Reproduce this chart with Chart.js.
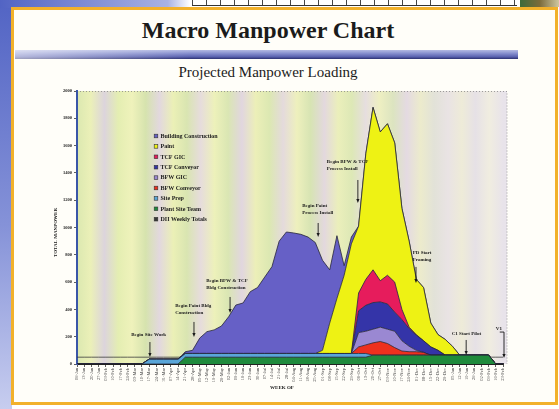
<!DOCTYPE html>
<html>
<head>
<meta charset="utf-8">
<script src="https://cdn.jsdelivr.net/npm/chart.js@4.4.1/dist/chart.umd.min.js"></script>
<style>
  html, body { margin: 0; padding: 0; }
  body { width: 559px; height: 409px; position: relative; overflow: hidden; background: #fff; font-family: 'Liberation Serif', serif; }
  .abs { position: absolute; }
  #leftStrip { left: 0; top: 0; width: 12px; height: 409px; background: linear-gradient(to bottom, #5264c4, #8592d8 55%, #c7cdef); }
  #topStrip { left: 0; top: 0; width: 559px; height: 8px; background: linear-gradient(to right, #5264c4, #a9b2e3 30%, #ffffff 34%); }
  #ruler { left: 192px; top: 0; width: 325px; height: 5px; border-bottom: 1px solid #333; background: repeating-linear-gradient(to right, #444 0 1px, transparent 1px 14px); }
  #corner { left: 520px; top: 0; width: 39px; height: 7px; background: linear-gradient(to right, #3c6a3a, #7a6a3a, #cfc7a0); }
  #frame { left: 11px; top: 7px; width: 541px; height: 392px; border: 3px solid #f2b12b; background: #fffef9; }
  #title { left: 0; top: 18px; width: 536px; text-align: center; font-weight: bold; font-size: 24px; line-height: 24px; color: #1b1b1b; }
  #band { left: 15px; top: 50px; width: 503px; height: 9px;
    background: linear-gradient(to right, rgba(255,255,255,0.55), rgba(255,255,255,0) 35%),
                linear-gradient(to bottom, #b4bae2 0, #8a92d0 35%, #5a62b0 75%, #2c3070 100%); }
  #subtitle { left: 0; top: 65px; width: 536px; text-align: center; font-size: 15px; line-height: 15px; color: #1b1b1b; }
  canvas { position: absolute; left: 0; top: 0; }
</style>
</head>
<body>
<div class="abs" id="leftStrip"></div>
<div class="abs" id="topStrip"></div>
<div class="abs" id="ruler"></div>
<div class="abs" id="corner"></div>
<div class="abs" id="frame"></div>
<div class="abs" id="title">Macro Manpower Chart</div>
<div class="abs" id="band"></div>
<div class="abs" id="subtitle">Projected Manpower Loading</div>
<canvas id="chart" width="559" height="409"></canvas>
<script>
const WEEKS = [
  '06-Jan','13-Jan','20-Jan','27-Jan','03-Feb','10-Feb','17-Feb','24-Feb','03-Mar','10-Mar',
  '17-Mar','24-Mar','31-Mar','07-Apr','14-Apr','21-Apr','28-Apr','05-May','12-May','19-May',
  '26-May','02-Jun','09-Jun','16-Jun','23-Jun','30-Jun','07-Jul','14-Jul','21-Jul','28-Jul',
  '04-Aug','11-Aug','18-Aug','25-Aug','01-Sep','08-Sep','15-Sep','22-Sep','29-Sep','06-Oct',
  '13-Oct','20-Oct','27-Oct','03-Nov','10-Nov','17-Nov','24-Nov','01-Dec','08-Dec','15-Dec',
  '22-Dec','29-Dec','05-Jan','12-Jan','19-Jan','26-Jan','02-Feb','09-Feb','16-Feb','23-Feb'
];

// stacked from the bottom up
const PLANT_SITE_TEAM = [
  0,0,0,0,0,0,0,0,0,0,
  0,0,0,0,0,50,50,50,50,50,
  50,50,50,50,50,50,50,50,50,50,
  50,50,50,50,50,50,50,50,50,50,
  50,65,65,65,65,65,65,65,65,65,
  65,65,65,65,65,65,65,65,0,0
];
const SITE_PREP = [
  0,0,0,0,0,0,0,0,0,0,
  35,35,35,35,35,27,27,27,27,27,
  27,27,27,27,27,27,27,27,27,27,
  27,27,27,27,27,27,27,27,27,27,
  27,0,0,0,0,0,0,0,0,0,
  0,0,0,0,0,0,0,0,0,0
];
const BFW_CONVEYOR = [
  0,0,0,0,0,0,0,0,0,0,
  0,0,0,0,0,0,0,0,0,0,
  0,0,0,0,0,0,0,0,0,0,
  0,0,0,0,0,0,0,0,0,48,
  63,90,100,85,55,30,25,25,20,0,
  0,0,0,0,0,0,0,0,0,0
];
const BFW_GIC = [
  0,0,0,0,0,0,0,0,0,0,
  0,0,0,0,0,0,0,0,0,0,
  0,0,0,0,0,0,0,0,0,0,
  0,0,0,0,0,0,0,0,0,105,
  100,100,105,105,120,75,40,10,0,0,
  0,0,0,0,0,0,0,0,0,0
];
const TCF_CONVEYOR = [
  0,0,0,0,0,0,0,0,0,0,
  0,0,0,0,0,0,0,0,0,0,
  0,0,0,0,0,0,0,0,0,0,
  0,0,0,0,0,0,0,0,0,160,
  190,195,185,185,140,155,130,110,85,60,
  35,0,0,0,0,0,0,0,0,0
];
const TCF_GIC = [
  0,0,0,0,0,0,0,0,0,0,
  0,0,0,0,0,0,0,0,0,0,
  0,0,0,0,0,0,0,0,0,0,
  0,0,0,0,0,0,0,0,0,130,
  190,240,155,210,220,75,10,5,0,0,
  0,0,0,0,0,0,0,0,0,0
];
const PAINT = [
  0,0,0,0,0,0,0,0,0,0,
  0,0,0,0,0,0,0,0,0,0,
  0,0,0,0,0,0,0,0,0,0,
  0,0,0,0,23,223,403,573,803,490,
  920,1190,1090,1110,1020,740,630,405,390,175,
  115,115,65,0,0,0,0,0,0,0
];
const BUILDING_CONSTRUCTION = [
  0,0,0,0,0,0,0,0,0,0,
  0,0,0,0,0,13,23,113,160,173,
  201,269,355,370,453,483,560,636,823,890,
  883,873,853,813,660,390,460,70,50,0,
  0,0,0,0,0,0,0,0,0,0,
  0,0,0,0,0,0,0,0,0,0
];
const DII_WEEKLY_TOTALS = [
  50,50,50,50,50,50,50,50,50,50,
  50,50,50,50,50,50,50,50,50,50,
  50,50,50,50,50,50,50,50,50,50,
  50,50,50,50,50,50,50,50,50,50,
  50,50,50,50,50,50,50,50,50,50,
  50,50,50,50,50,50,50,50,50,50
];

const STACK = [
  { label: 'Plant Site Team', data: PLANT_SITE_TEAM, color: '#1f8a3c' },
  { label: 'Site Prep', data: SITE_PREP, color: '#5aa6d8' },
  { label: 'BFW Conveyor', data: BFW_CONVEYOR, color: '#ee301e' },
  { label: 'BFW GIC', data: BFW_GIC, color: '#9a88d2' },
  { label: 'TCF Conveyor', data: TCF_CONVEYOR, color: '#3434a8' },
  { label: 'TCF GIC', data: TCF_GIC, color: '#e61c5c' },
  { label: 'Paint', data: PAINT, color: '#eef214' },
  { label: 'Building Construction', data: BUILDING_CONSTRUCTION, color: '#6660c6' }
];

// events marked on the chart: text anchor and arrow, in week / manpower units
const NOTES = [
  { lines: ['Begin Site Work'], tx: 7.5, ty: 212, ax: 10.1, from: 161, to: 51 },
  { lines: ['Begin Paint Bldg', 'Construction'], tx: 13.6, ty: 425, ax: 16.2, from: 308, to: 198 },
  { lines: ['Begin BFW & TCF', 'Bldg Construction'], tx: 17.9, ty: 608, ax: 21.2, from: 491, to: 374 },
  { lines: ['Begin Paint', 'Process Install'], tx: 31.2, ty: 1157, ax: 33.4, from: 1033, to: 930 },
  { lines: ['Begin BFW & TCF', 'Process Install'], tx: 34.6, ty: 1480, ax: 38.9, from: 1348, to: 1180 },
  { lines: ['PD Start', 'Framing'], tx: 46.5, ty: 813, ax: 46.95, from: 711, to: 593 },
  { lines: ['C1 Start Pilot'], tx: 51.9, ty: 220, ax: 53.9, from: 176, to: 66 }
];

const STRIPES = ['#dbe8b0','#ebf0b8','#dcd4dc','#e4eeb2','#eff2bb','#d6e3ae','#e2d8de','#ebf0b6',
  '#d9e5b1','#e6dcdc','#edf1ba','#dae6b3','#e1d6df','#ecefb8','#dce8b2','#e4dadc','#eef0bd',
  '#d7e4b3','#e3d8de','#ebefbb','#dde8b6','#e6dedf','#eeefc2','#dce4c0','#e4dae2','#ecebcc',
  '#e2e2d8','#e9e3e4','#eeebd8','#e6e1e6','#f0ede0','#e8e3ea'];

const SERIF = '"Liberation Serif", "Times New Roman", serif';

const plotBg = {
  id: 'plotBg',
  beforeDraw(chart) {
    const { ctx, chartArea: a } = chart;
    const g = ctx.createLinearGradient(a.left, 0, a.right, 0);
    STRIPES.forEach((c, k) => g.addColorStop(k / (STRIPES.length - 1), c));
    ctx.save();
    ctx.fillStyle = g;
    ctx.fillRect(a.left, a.top, a.right - a.left + 4, a.bottom - a.top);
    ctx.setLineDash([1, 2]);
    ctx.strokeStyle = '#888';
    ctx.lineWidth = 0.8;
    ctx.beginPath();
    ctx.moveTo(a.left, a.top + 0.5);
    ctx.lineTo(a.right + 4, a.top + 0.5);
    ctx.lineTo(a.right + 4, a.bottom);
    ctx.stroke();
    ctx.restore();
  }
};

function arrowHead(ctx, x, y) {
  ctx.beginPath();
  ctx.moveTo(x, y);
  ctx.lineTo(x - 1.6, y - 4);
  ctx.lineTo(x + 1.6, y - 4);
  ctx.closePath();
  ctx.fill();
}

const notesPlugin = {
  id: 'notes',
  afterDatasetsDraw(chart) {
    const { ctx, chartArea: a } = chart;
    const xs = chart.scales.x, ys = chart.scales.y;
    ctx.save();
    ctx.fillStyle = '#1a1a1a';
    ctx.strokeStyle = '#1a1a1a';
    ctx.lineWidth = 0.9;
    ctx.font = 'bold 5px ' + SERIF;
    ctx.textBaseline = 'middle';
    ctx.textAlign = 'left';
    NOTES.forEach(n => {
      const tx = xs.getPixelForValue(n.tx), ty = ys.getPixelForValue(n.ty);
      n.lines.forEach((t, k) => ctx.fillText(t, tx, ty + k * 7));
      const ax = xs.getPixelForValue(n.ax);
      const y1 = ys.getPixelForValue(n.from), y2 = ys.getPixelForValue(n.to);
      ctx.beginPath();
      ctx.moveTo(ax, y1);
      ctx.lineTo(ax, y2 - 3);
      ctx.stroke();
      arrowHead(ctx, ax, y2);
    });

    // V1 marker at the last week
    const vx = xs.getPixelForValue(58.0), vy = ys.getPixelForValue(256);
    ctx.fillText('V1', vx, vy);
    const ex = xs.getPixelForValue(59) + 1;
    ctx.beginPath();
    ctx.moveTo(vx + 4, vy + 3);
    ctx.lineTo(ex, vy + 3);
    ctx.lineTo(ex, ys.getPixelForValue(44) - 3);
    ctx.stroke();
    arrowHead(ctx, ex, ys.getPixelForValue(44));

    // legend
    const names = STACK.slice().reverse().map(s => [s.label, s.color]).concat([['DII Weekly Totals', '#3a3a3a']]);
    ctx.font = 'bold 6px ' + SERIF;
    names.forEach(([name, color], k) => {
      const lx = a.left + 79, ly = a.top + 45 + k * 10.4;
      ctx.fillStyle = color;
      ctx.fillRect(lx - 1.8, ly - 1.8, 3.6, 3.6);
      ctx.lineWidth = 0.6;
      ctx.strokeStyle = '#333';
      ctx.strokeRect(lx - 1.8, ly - 1.8, 3.6, 3.6);
      ctx.fillStyle = '#1a1a1a';
      ctx.fillText(name, lx + 4.5, ly + 0.3);
    });

    // axis titles
    ctx.font = 'bold 5px ' + SERIF;
    ctx.textAlign = 'center';
    ctx.fillText('WEEK OF', (a.left + a.right) / 2 - 8, a.bottom + 24);
    ctx.translate(a.left - 21, (a.top + a.bottom) / 2 + 5);
    ctx.rotate(-Math.PI / 2);
    ctx.fillText('TOTAL MANPOWER', 0, 0);
    ctx.restore();
  }
};

const datasets = STACK.map(s => ({
  label: s.label,
  data: s.data,
  backgroundColor: s.color,
  borderColor: '#26263a',
  borderWidth: 0.8,
  fill: 'stack',
  pointRadius: 0,
  tension: 0,
  stack: 'crew',
  order: 0
}));
datasets.push({
  label: 'DII Weekly Totals',
  data: DII_WEEKLY_TOTALS,
  borderColor: '#3a3a3a',
  borderWidth: 0.8,
  fill: false,
  pointRadius: 0,
  tension: 0,
  stack: 'dii',
  order: 1
});

new Chart(document.getElementById('chart'), {
  type: 'line',
  data: { labels: WEEKS, datasets },
  options: {
    responsive: false,
    animation: false,
    events: [],
    layout: { padding: { left: 0, top: 91, right: 56, bottom: 0 } },
    plugins: { legend: { display: false }, tooltip: { enabled: false } },
    scales: {
      x: {
        offset: false,
        grid: { drawOnChartArea: false, tickLength: 3, color: '#333', lineWidth: 0.8 },
        border: { color: '#222', width: 2 },
        ticks: { autoSkip: false, minRotation: 90, maxRotation: 90, padding: 1,
                 font: { family: SERIF, size: 4.5 }, color: '#444' },
        afterFit(s) { s.height = 45; }
      },
      y: {
        stacked: true,
        min: 0,
        max: 2000,
        grid: { drawOnChartArea: false, tickLength: 3, color: '#333', lineWidth: 0.8 },
        border: { color: '#3a56a8', width: 2 },
        ticks: { stepSize: 200, padding: 2, callback: v => v,
                 font: { family: SERIF, size: 4.5, weight: 'bold' }, color: '#222' },
        afterFit(s) { s.width = 77; }
      }
    }
  },
  plugins: [plotBg, notesPlugin]
});
</script>
</body>
</html>
